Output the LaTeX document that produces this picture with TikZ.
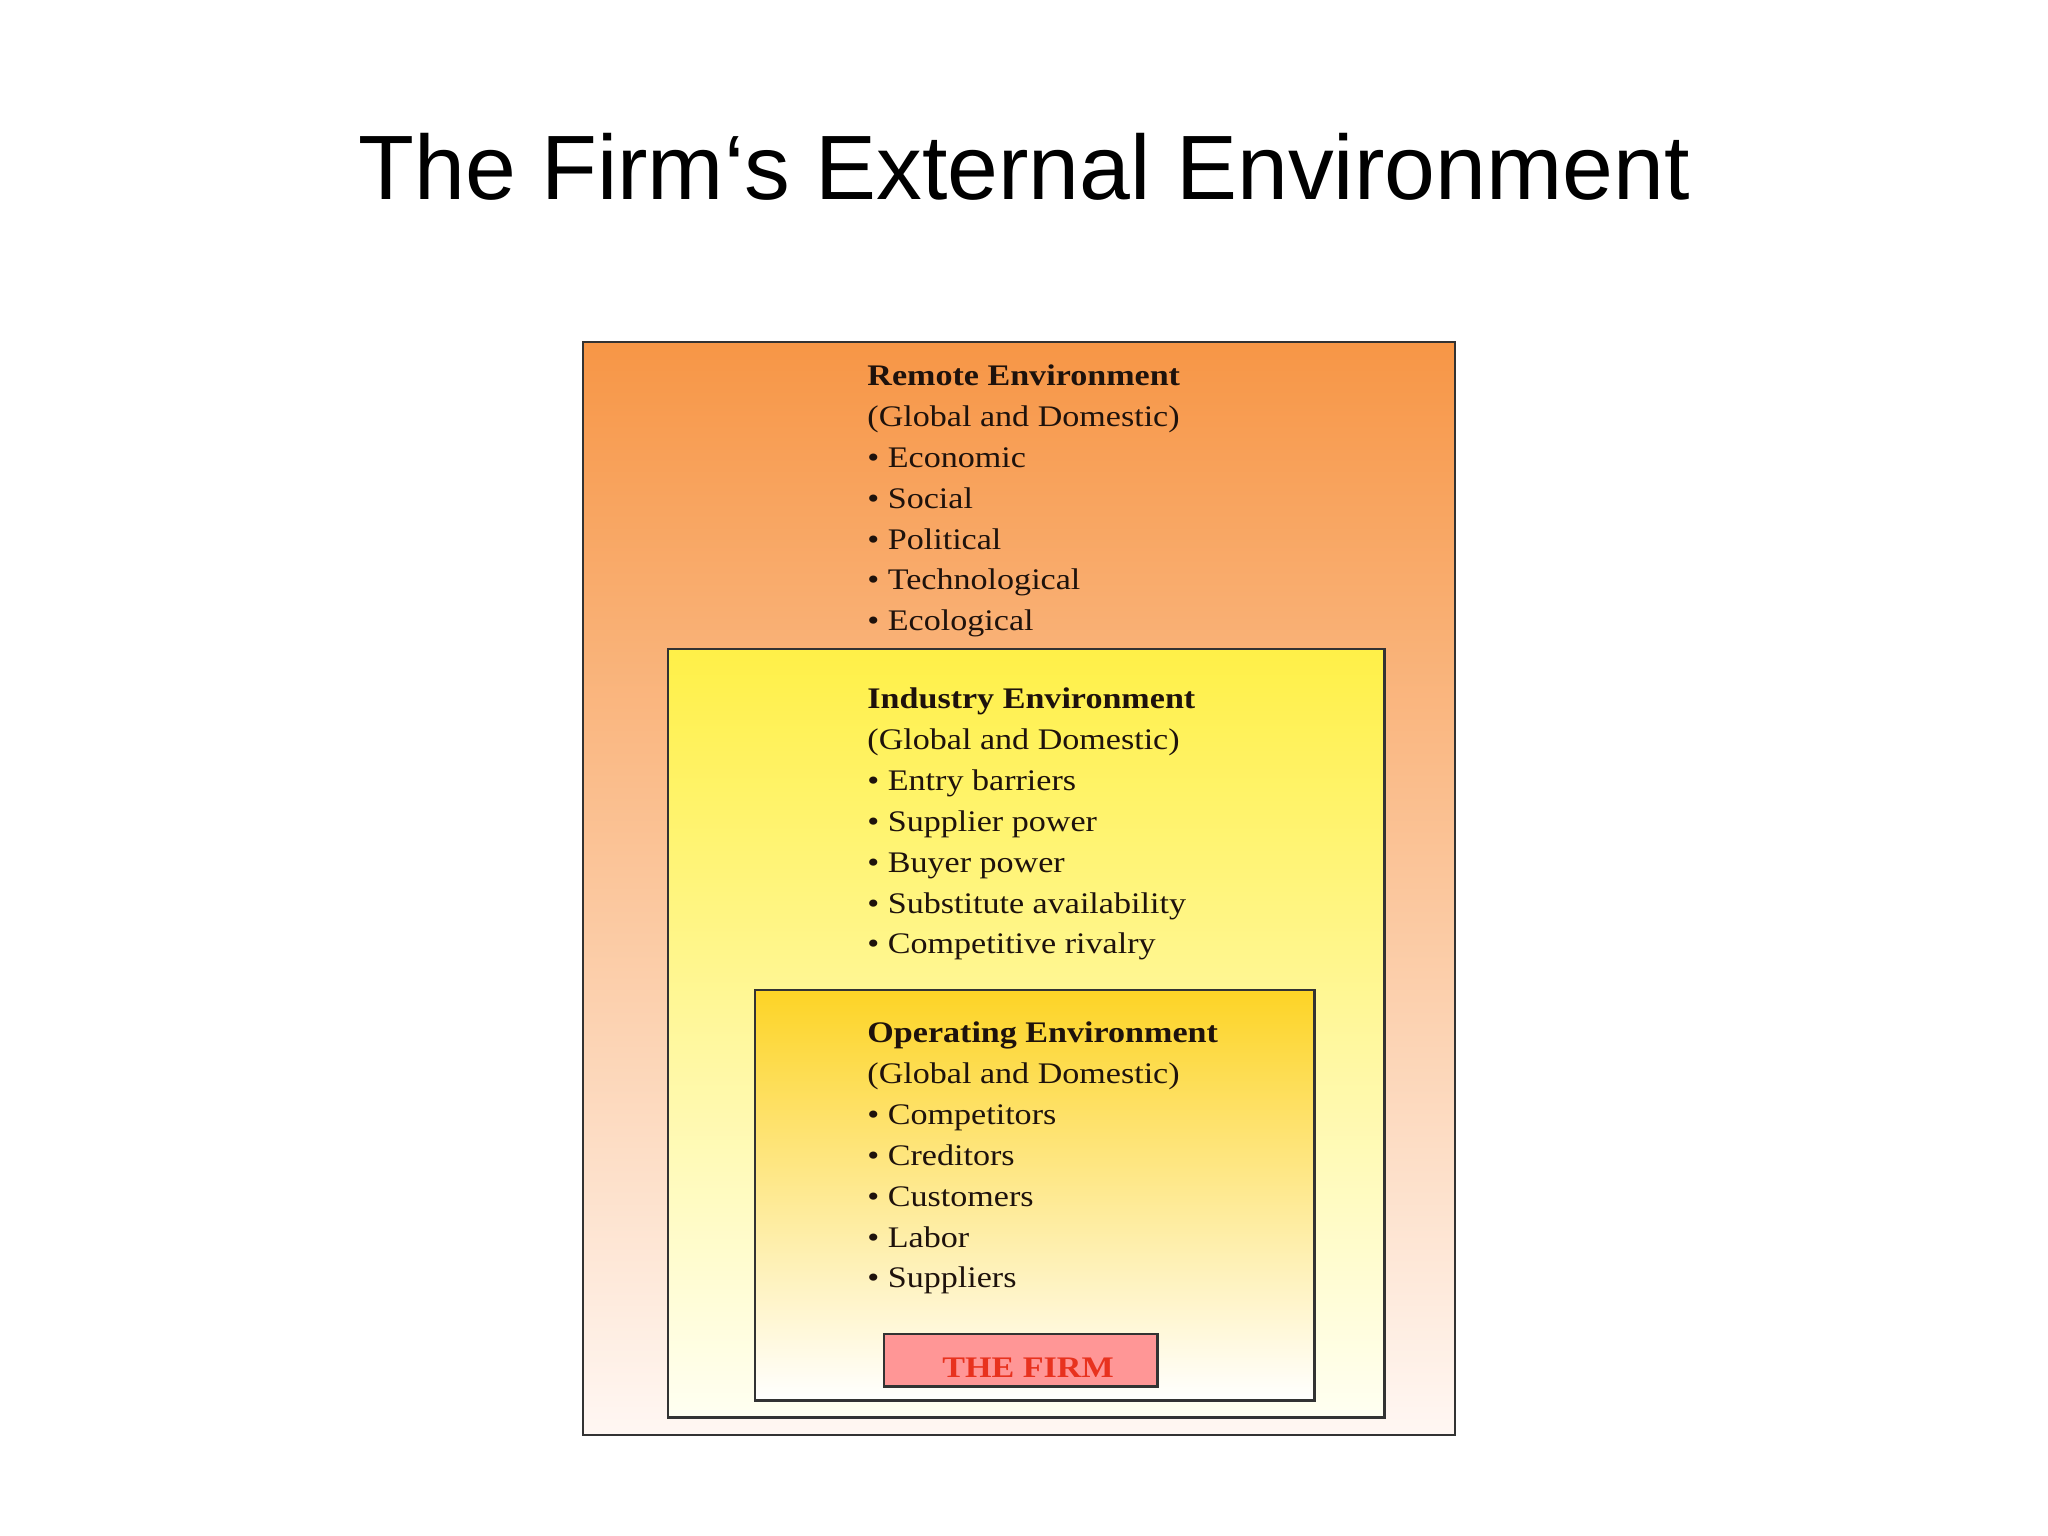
\documentclass[tikz,border=0pt]{standalone}
\usepackage{fontspec}
\setmainfont{Liberation Serif}[FakeStretch=1.14]
\newfontfamily\titlefont{Liberation Sans}
\usepackage{tikz}
\usetikzlibrary{positioning}

\definecolor{remotetop}{RGB}{247,150,70}
\definecolor{remotebot}{RGB}{255,247,243}
\definecolor{industrytop}{RGB}{255,240,72}
\definecolor{industrybot}{RGB}{255,255,242}
\definecolor{operatingtop}{RGB}{253,212,38}
\definecolor{operatingbot}{RGB}{255,255,255}
\definecolor{firmfill}{RGB}{255,150,150}
\definecolor{firmtext}{RGB}{232,50,30}
\definecolor{listtext}{RGB}{30,18,12}

\begin{document}
\begin{tikzpicture}[x=0.01cm,y=-0.01cm,thick]

% Define block styles
\tikzstyle{envbox} = [rectangle, draw=black!80, line width=0.7pt, anchor=north west, inner sep=0pt]
\tikzstyle{remote} = [envbox, top color=remotetop, bottom color=remotebot, minimum width=8.71cm, minimum height=10.92cm]
\tikzstyle{industry} = [envbox, top color=industrytop, bottom color=industrybot, minimum width=7.16cm, minimum height=7.68cm]
\tikzstyle{operating} = [envbox, top color=operatingtop, bottom color=operatingbot, minimum width=5.59cm, minimum height=4.10cm]
\tikzstyle{firmbox} = [envbox, fill=firmfill, minimum width=2.73cm, minimum height=0.52cm]
\tikzstyle{list} = [anchor=north west, inner sep=0pt, align=left, text=listtext, font=\fontsize{8.5}{11.65}\selectfont]

\useasboundingbox (0,0) rectangle (2048,1536);

\node[anchor=base, font=\titlefont\fontsize{26}{30}\selectfont] (title) at (1024,199) {The Firm‘s External Environment};

\node[remote]		(rembox)	at (582,341)	{};
\node[industry]		(indbox)	at (667,648)	{};
\node[operating]	(opbox)		at (754,989)	{};
\node[firmbox]		(firm)		at (883,1333)	{};

\node[list] (remlist) at (866,363) {\textbf{Remote Environment}\\(Global and Domestic)\\• Economic\\• Social\\• Political\\• Technological\\• Ecological};
\node[list] (indlist) at (866,686) {\textbf{Industry Environment}\\(Global and Domestic)\\• Entry barriers\\• Supplier power\\• Buyer power\\• Substitute availability\\• Competitive rivalry};
\node[list] (oplist) at (866,1020) {\textbf{Operating Environment}\\(Global and Domestic)\\• Competitors\\• Creditors\\• Customers\\• Labor\\• Suppliers};

\node[anchor=base, inner sep=0pt, text=firmtext, font=\fontsize{8.5}{10}\selectfont\bfseries] (firmlabel) at (1028,1377) {THE FIRM};

\end{tikzpicture}
\end{document}
